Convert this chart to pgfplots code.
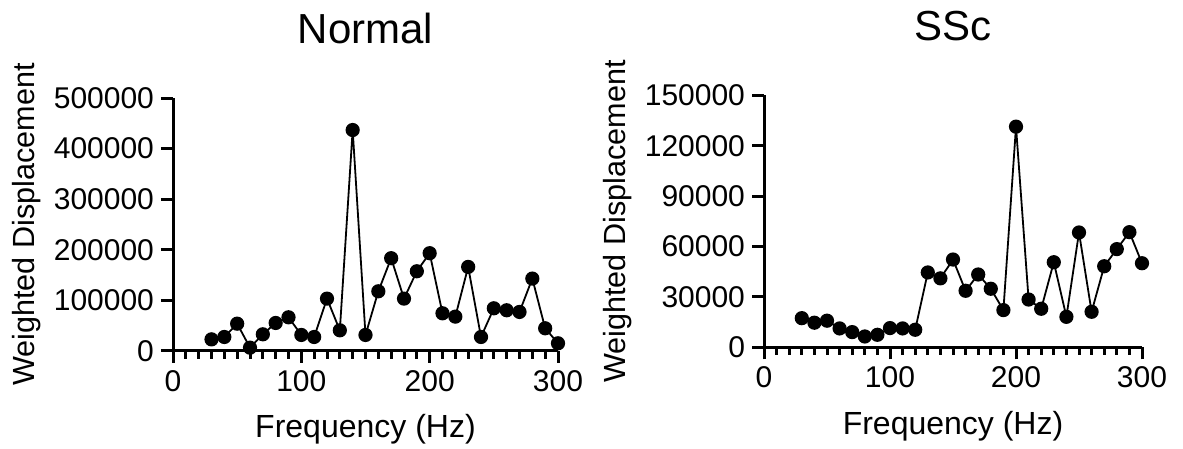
\documentclass[border=0pt]{standalone}
\usepackage{fontspec}
\setmainfont{Liberation Sans}
\usepackage{pgfplots}
\pgfplotsset{compat=1.18}

\pgfplotsset{
  fft/.style={
    scale only axis,
    height=126.5pt,
    axis lines=left,
    axis line style={-, line width=1.5pt},
    xmin=0, xmax=300, ymin=0,
    xtick={0,100,200,300},
    minor x tick num=9,
    tick align=outside,
    major tick length=6pt, minor tick length=3.8pt,
    every tick/.style={black, line width=1.5pt},
    tick label style={font=\fontsize{15}{18}\selectfont},
    label style={font=\fontsize{16}{19}\selectfont},
    ylabel style={font=\fontsize{15.3}{18}\selectfont},
    title style={font=\fontsize{21}{25}\selectfont, at={(0.5,1)}, anchor=base, yshift=21.5pt},
    xlabel style={at={(0.5,0)}, anchor=base, yshift=-43.5pt},
    ylabel shift=-0.5pt,
    scaled y ticks=false,
    yticklabel={\pgfmathprintnumber[fixed, precision=0, 1000 sep={}, assume math mode=true]{\tick}},
    xticklabel={\pgfmathprintnumber[fixed, precision=0, assume math mode=true]{\tick}},
    clip=false,
    xlabel={Frequency (Hz)},
    ylabel={Weighted Displacement},
  },
  dots/.style={black, line width=0.9pt, mark=*, mark size=3.1pt,
    mark options={solid, fill=black}},
}

\begin{document}
\begin{tikzpicture}
\useasboundingbox (0,0) rectangle (591.5pt,224.5pt);

% Normal
\begin{axis}[fft, at={(86.5pt,49pt)}, anchor=south west,
    width=192.5pt, ymax=500000, ytick distance=100000, title={Normal}]
\addplot[dots] coordinates {
  (30,23000) (40,27700) (50,54000) (60,6600) (70,33000) (80,55400)
  (90,66600) (100,31700) (110,27700) (120,103500) (130,40900) (140,436700)
  (150,31700) (160,118000) (170,183400) (180,103500) (190,157600) (200,193300)
  (210,74500) (220,67900) (230,166200) (240,27700) (250,84400) (260,80500)
  (270,77200) (280,143100) (290,44900) (300,15200) };
\end{axis}

% SSc
\begin{axis}[fft, at={(382pt,50.8pt)}, anchor=south west,
    width=189pt, height=126pt, ymax=150000, ytick distance=30000, title={SSc}]
\addplot[dots] coordinates {
  (30,17400) (40,14700) (50,15900) (60,11300) (70,9100) (80,6500)
  (90,7500) (100,11500) (110,11300) (120,10500) (130,44600) (140,41100)
  (150,52300) (160,33700) (170,43400) (180,34900) (190,22200) (200,131400)
  (210,28500) (220,23000) (230,50700) (240,18200) (250,68400) (260,21200)
  (270,48300) (280,58500) (290,68600) (300,50100) };
\end{axis}
\end{tikzpicture}
\end{document}
